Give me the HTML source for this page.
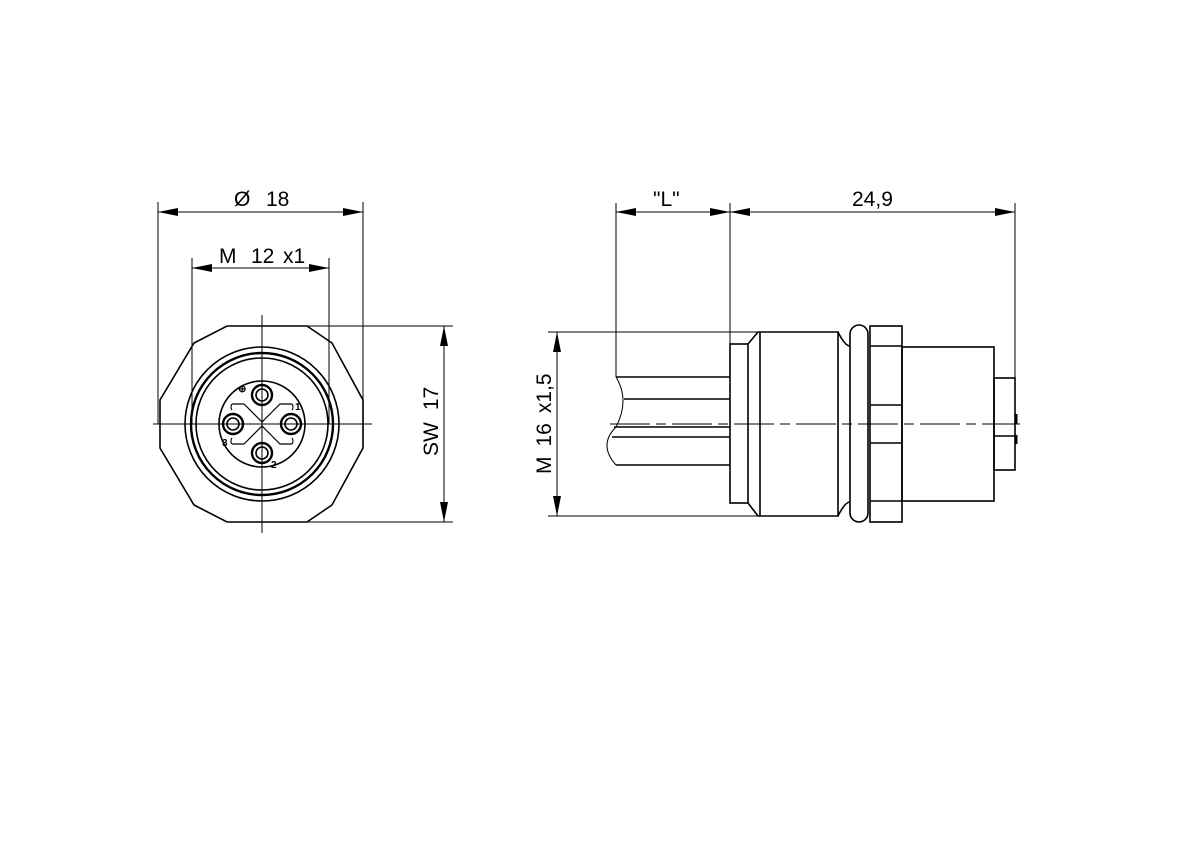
<!DOCTYPE html>
<html><head><meta charset="utf-8"><style>html,body{margin:0;padding:0;background:#fff}svg{display:block}</style></head>
<body>
<svg width="1200" height="848" viewBox="0 0 1200 848" xmlns="http://www.w3.org/2000/svg" font-family="Liberation Sans Narrow, Liberation Sans, sans-serif">
<defs>
<marker id="a" markerWidth="20" markerHeight="8" refX="0" refY="4" orient="auto" markerUnits="userSpaceOnUse"><path d="M0,4 L20,0 L20,8 Z" fill="#000"/></marker>
<marker id="b" markerWidth="20" markerHeight="8" refX="20" refY="4" orient="auto" markerUnits="userSpaceOnUse"><path d="M20,4 L0,0 L0,8 Z" fill="#000"/></marker>
</defs>
<g stroke="#000" fill="none">
<g stroke-width="1">
<line x1="158" y1="202" x2="158" y2="424"/>
<line x1="363" y1="202" x2="363" y2="424"/>
<line x1="158" y1="212" x2="363" y2="212" marker-start="url(#a)" marker-end="url(#b)"/>
<line x1="192" y1="258" x2="192" y2="424"/>
<line x1="329" y1="258" x2="329" y2="424"/>
<line x1="192" y1="268" x2="329" y2="268" marker-start="url(#a)" marker-end="url(#b)"/>
<line x1="262" y1="326" x2="453" y2="326"/>
<line x1="262" y1="522" x2="453" y2="522"/>
<line x1="444" y1="326" x2="444" y2="522" marker-start="url(#a)" marker-end="url(#b)"/>
<line x1="153" y1="424" x2="372" y2="424"/>
<line x1="262" y1="315" x2="262" y2="533"/>
</g>
<g stroke-width="1.6">
<polygon points="227,326 307,326 332,343 363,400 363,448 332,505 307,522 227,522 194,505 160,448 160,400 194,343"/>
<circle cx="262" cy="424" r="77"/>
<circle cx="262" cy="424" r="71" stroke-width="2.4"/>
<circle cx="262" cy="424" r="66"/>
<circle cx="262" cy="424" r="43"/>
<circle cx="262" cy="395" r="10" stroke-width="2.4"/><circle cx="262" cy="395" r="6"/>
<circle cx="262" cy="453" r="10" stroke-width="2.4"/><circle cx="262" cy="453" r="6"/>
<circle cx="233" cy="424" r="10" stroke-width="2.4"/><circle cx="233" cy="424" r="6"/>
<circle cx="291" cy="424" r="10" stroke-width="2.4"/><circle cx="291" cy="424" r="6"/>
</g>
<g stroke-width="1.2">
<path d="M232,404 L244,404 L262,422 L280,404 L292,404 M232,444 L244,444 L262,426 L280,444 L292,444"/>
<path d="M232,404 A5,5 0 0 0 232,410 M292,404 A5,5 0 0 1 292,410 M232,444 A5,5 0 0 1 232,438 M292,444 A5,5 0 0 0 292,438"/>
</g>
<g stroke-width="1">
<line x1="616" y1="203" x2="616" y2="377"/>
<line x1="730" y1="203" x2="730" y2="344"/>
<line x1="1015" y1="203" x2="1015" y2="378"/>
<line x1="616" y1="212" x2="730" y2="212" marker-start="url(#a)" marker-end="url(#b)"/>
<line x1="730" y1="212" x2="1015" y2="212" marker-start="url(#a)" marker-end="url(#b)"/>
<line x1="548" y1="332" x2="760" y2="332"/>
<line x1="548" y1="516" x2="760" y2="516"/>
<line x1="557" y1="332" x2="557" y2="516" marker-start="url(#a)" marker-end="url(#b)"/>
<line x1="610" y1="424" x2="1020" y2="424" stroke-dasharray="40,6,10,6"/>
<path d="M616,377 Q630,400 616,427 M616,427 Q598,445 616,465"/>
</g>
<g stroke-width="1.6">
<path d="M616,377 L730,377 M624,399 L730,399 M614,427 L730,427 M612,437 L730,437 M616,465 L730,465"/>
<rect x="730" y="344" width="18" height="159"/>
<path d="M748,344 L758,332 L838,332 L838,516 L758,516 L748,503 M760,332 L760,516 M838,332 Q845,346 850,346 M838,516 Q845,502 850,502"/>
<rect x="850" y="325" width="18" height="197" rx="9"/>
<rect x="870" y="326" width="32" height="196"/>
<path d="M870,346 L902,346 M870,405 L902,405 M870,443 L902,443 M870,501 L902,501"/>
<rect x="902" y="347" width="92" height="154"/>
<rect x="994" y="378" width="21" height="92"/>
<line x1="994" y1="436" x2="1015" y2="436"/>
<path d="M1016,414 L1016,424 M1016,435 L1016,444" stroke-width="3"/>
</g>
</g>
<g font-size="21" fill="#000">
<text x="234" y="206">Ø</text>
<text x="266" y="206">18</text>
<text x="219" y="263">M</text><text x="251" y="263">12</text><text x="283" y="263">x1</text>
<text x="653" y="206">"L"</text>
<text x="852" y="206">24,9</text>
<text transform="translate(438,456) rotate(-90)">SW<tspan dx="12">17</tspan></text>
<text transform="translate(551,474) rotate(-90)">M<tspan dx="10">16</tspan><tspan dx="10">x1,5</tspan></text>
</g>
<g font-size="10" font-weight="bold" fill="#000" font-family="Liberation Sans, sans-serif">
<text x="295" y="410">1</text><text x="271" y="468">2</text><text x="222" y="446">3</text><text x="238" y="392">⊕</text>
</g>
</svg>
</body></html>
